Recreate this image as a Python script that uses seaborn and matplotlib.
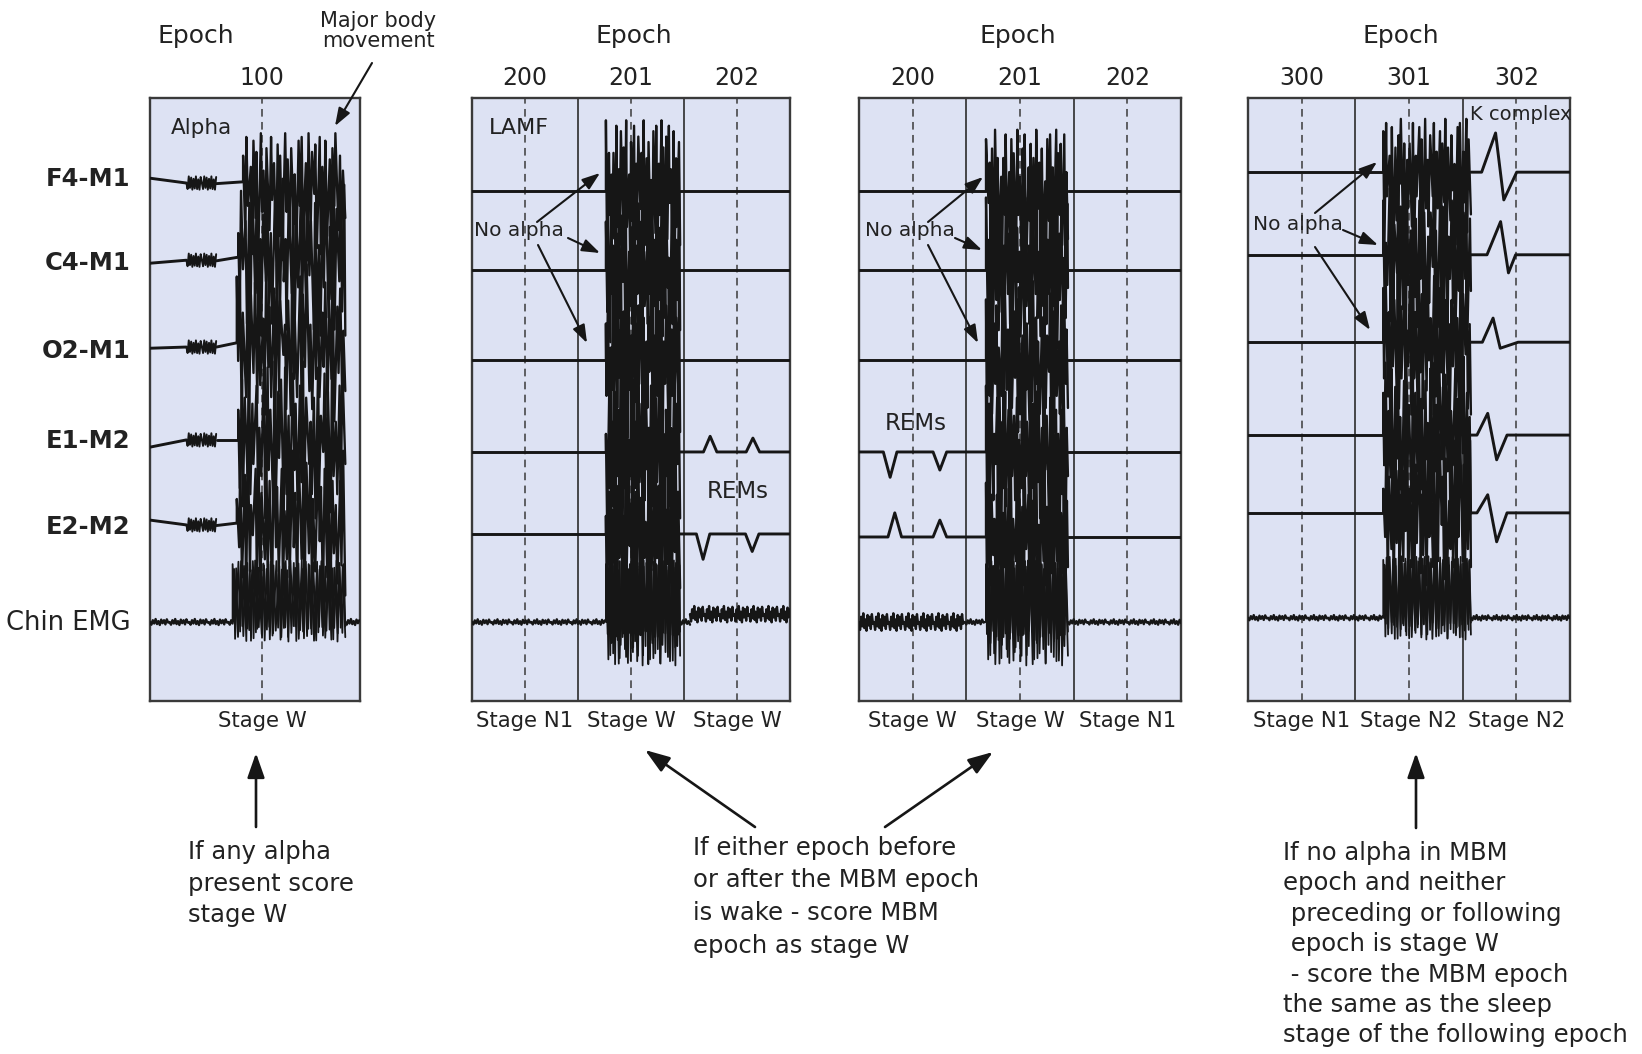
import numpy as np
import pandas as pd
import matplotlib
matplotlib.use("Agg")
import matplotlib.pyplot as plt
import seaborn as sns

sns.set_theme(style="white")
plt.rcParams['font.family'] = ['DejaVu Sans']

# ---------------- data ----------------
channels = ["F4-M1", "C4-M1", "O2-M1", "E1-M2", "E2-M2", "Chin EMG"]
channel_label_pos = [13.1, 26.9, 41.5, 56.4, 70.8, 86.6]   # 0 = top of panel, 100 = bottom

panel_epochs = [["100"], ["200", "201", "202"], ["200", "201", "202"], ["300", "301", "302"]]
panel_stages = [["Stage W"], ["Stage N1", "Stage W", "Stage W"],
                ["Stage W", "Stage W", "Stage N1"], ["Stage N1", "Stage N2", "Stage N2"]]
panel_mid_epoch = [[16.0], [15.0, 45.0, 75.0], [15.0, 45.0, 75.0], [15.0, 45.0, 75.0]]
epoch_bounds = [[], [30.0, 60.0], [30.0, 60.0], [30.0, 60.0]]

# panel 1 (epoch 100): baseline level at t = 0, 5.2, 9.5 and at burst onset
p1_knot_t = [0.0, 5.2, 9.5]
p1_drift = [[13.3, 14.1, 14.2, 13.9],
            [27.4, 26.9, 27.0, 26.4],
            [41.5, 41.3, 41.3, 40.6],
            [57.9, 56.7, 56.7, 56.7],
            [70.0, 70.8, 70.9, 70.5]]
p1_emg_level = 86.9
p1_burst_start = [13.3, 12.6, 12.4, 12.6, 12.4, 11.8]
p1_burst_end = 27.9

base_p2 = [15.4, 28.5, 43.4, 58.7, 72.3, 86.9]
base_p3 = [15.4, 28.5, 43.4, 58.7, 72.8, 86.9]
base_p4 = [12.3, 26.0, 40.5, 55.9, 68.8, 86.2]
burst_p2 = (37.9, 58.9)
burst_p3 = (35.5, 58.4)
burst_p4 = (37.8, 62.3)
p2_emg_thick_from = 61.7
p3_emg_thick_to = 29.6

# height of the burst above the top trace and depth of EMG spikes, per panel
burst_up_scale = [0.62, 0.9, 0.78, 0.68]
emg_down_scale = [0.45, 1.0, 1.0, 0.5]

# REMs: (time s, deflection; negative = upward)
rem_p2_e1 = [(67.4, -2.6), (79.5, -2.3)]
rem_p2_e2 = [(65.4, 4.2), (79.3, 2.9)]
rem_p3_e1 = [(8.7, 4.2), (22.6, 3.0)]
rem_p3_e2 = [(10.0, -4.0), (22.6, -2.8)]

# K complexes in epoch 302 (F4, C4, O2, E1, E2)
kc_start = [65.3, 66.8, 65.5, 64.0, 64.0]
kc_peak_t = [69.2, 70.6, 68.5, 67.0, 67.0]
kc_peak = [6.5, 5.5, 4.0, 3.6, 3.0]
kc_trough_t = [71.5, 72.8, 70.5, 69.5, 69.5]
kc_trough = [4.6, 3.0, 1.0, 4.1, 4.8]
kc_end = [75.1, 74.8, 75.5, 72.4, 72.4]

# major body movement burst excursions (units above / below baseline) and stroke spacing
mbm_up = [7, 12, 4, 11, 8, 13, 3, 9, 12, 5, 10, 7, 13, 6, 9, 2, 11, 12, 5, 13, 8, 10, 12, 4, 11, 6, 9, 13, 7, 3]
mbm_down = [9, 4, 12, 6, 13, 5, 11, 8, 3, 12, 9, 13, 5, 10, 7, 12, 4, 9, 13, 8, 2, 11, 12, 6, 9, 13, 4, 8, 11, 6]
mbm_gap = [1.0, 1.6, 0.7, 1.2, 2.0, 0.8, 1.1, 1.5, 0.6, 1.3, 1.9, 0.9, 1.0, 1.4, 0.7, 2.2, 1.1, 0.8, 1.3, 1.7,
           0.9, 1.2, 0.6, 1.5, 2.1, 1.0, 0.8, 1.4, 1.1, 1.8, 0.7, 1.2, 1.6, 0.9, 1.3, 1.0, 2.0, 0.8, 1.1, 1.5]
emg_up = [9.6, 8.9, 10.1, 9.3, 9.8, 8.6, 10.2, 9.0, 9.7, 8.8, 10.0, 9.4, 9.9, 8.7, 10.1,
          9.2, 9.8, 8.9, 10.2, 9.1, 9.6, 8.8, 10.0, 9.3, 9.7, 8.6, 10.1, 9.0, 9.8, 9.4]
emg_down = [2.0, 5.5, 1.5, 7.0, 3.0, 6.0, 2.5, 4.5, 6.8, 1.8, 5.0, 3.2, 6.5, 2.2, 7.2,
            4.0, 1.6, 6.2, 3.5, 5.2, 2.4, 6.9, 3.8, 1.9, 5.8, 2.8, 6.4, 4.2, 2.1, 5.6]
emg_jitter = [0.0, 0.45, -0.3, 0.25, -0.5, 0.35, -0.15, 0.5, -0.4, 0.2, -0.3, 0.4, -0.45, 0.1]
alpha_wave = [0.0, 1.0, -1.1, 0.8, -0.9, 1.1, -0.7, 0.9, -1.1, 1.0, -0.6, 1.1, -1.0]

# ---------------- layout (pixels of the 1642 x 1054 canvas) ----------------
W, H = 1642, 1054
panel_px = [(150, 360), (472, 790), (859, 1181), (1248, 1570)]
panel_top, panel_bot = 98, 701
ink = "#161616"
grid_ink = "#3a3a3a"
face = "#dde2f3"

# ---------------- build the traces ----------------
rows = []
seg = [0]


def add(panel, kind, ts, ys):
    seg[0] += 1
    for t, y in zip(ts, ys):
        rows.append((panel, kind, seg[0], float(t), float(y)))


def zigzag(t0, t1, level, up, down, shift=0):
    n = len(up)
    g = np.roll(np.resize(np.asarray(mbm_gap, float), 2 * n), shift)
    pos = np.cumsum(g)
    pos = (pos - pos[0]) / (pos[-1] - pos[0])
    ts = t0 + (t1 - t0) * pos
    ys = np.empty(2 * n)
    ys[0::2] = level - np.asarray(up, float)
    ys[1::2] = level + np.asarray(down, float)
    return np.r_[t0, ts], np.r_[level, ys]


def jitter(t0, t1, level, step, scale, offset=0.0):
    ts = np.arange(t0, t1 + 1e-9, step)
    pat = np.resize(np.asarray(emg_jitter, float), len(ts))
    return ts, level + offset + scale * pat


def rem_path(t0, t1, level, rems, hw=1.9):
    ts, ys = [t0], [level]
    for tc, d in rems:
        ts += [tc - hw, tc, tc + hw]
        ys += [level, level + d, level]
    ts.append(t1)
    ys.append(level)
    return ts, ys


# panel 1
us = burst_up_scale[0]
for c in range(5):
    k = p1_drift[c]
    add(0, "base", [p1_knot_t[0], p1_knot_t[1]], [k[0], k[1]])
    ta = np.arange(p1_knot_t[1], p1_knot_t[2], 0.17)
    add(0, "alpha", ta, k[1] + np.resize(np.asarray(alpha_wave, float), len(ta)))
    add(0, "base", [p1_knot_t[2], p1_burst_start[c]], [k[2], k[3]])
    up = np.roll(mbm_up, 7 * c) * (us if c == 0 else 1.0)
    dn = np.roll(mbm_down, 11 * c)
    add(0, "burst", *zigzag(p1_burst_start[c], p1_burst_end, k[3], up, dn, shift=5 * c))
add(0, "jitter", *jitter(0, p1_burst_start[5], p1_emg_level, 0.2, 1.0))
eds = emg_down_scale[0]
add(0, "emgburst", *zigzag(p1_burst_start[5], p1_burst_end, p1_emg_level, emg_up,
                            np.asarray(emg_down) * eds))
add(0, "emgburst", *zigzag(p1_burst_start[5] + 0.2, p1_burst_end, p1_emg_level,
                            np.roll(emg_up, 9), np.roll(emg_down, 13) * eds, shift=7))
add(0, "jitter", *jitter(p1_burst_end, 30, p1_emg_level, 0.2, 1.0))

# panels 2-4 EEG / EOG channels
for p, base, (b0, b1) in [(1, base_p2, burst_p2), (2, base_p3, burst_p3), (3, base_p4, burst_p4)]:
    us = burst_up_scale[p]
    for c in range(5):
        lv = base[c]
        # before the burst
        if p == 2 and c == 3:
            add(p, "base", *rem_path(0, b0, lv, rem_p3_e1))
        elif p == 2 and c == 4:
            add(p, "base", *rem_path(0, b0, lv, rem_p3_e2))
        else:
            add(p, "base", [0, b0], [lv, lv])
        # burst
        up = np.roll(mbm_up, 7 * c + 3 * p) * (us if c == 0 else 1.0)
        dn = np.roll(mbm_down, 11 * c + 5 * p)
        add(p, "burst", *zigzag(b0, b1, lv, up, dn, shift=5 * c + 3 * p))
        # after the burst
        if p == 1 and c == 3:
            add(p, "base", *rem_path(b1, 90, lv, rem_p2_e1))
        elif p == 1 and c == 4:
            add(p, "base", *rem_path(b1, 90, lv, rem_p2_e2))
        elif p == 3:
            add(p, "base", [b1, kc_start[c], kc_peak_t[c], kc_trough_t[c], kc_end[c], 90],
                [lv, lv, lv - kc_peak[c], lv + kc_trough[c], lv, lv])
        else:
            add(p, "base", [b1, 90], [lv, lv])
    # chin EMG
    lv = base[5]
    eds = emg_down_scale[p]
    if p == 2:
        add(p, "jitter", *jitter(0, p3_emg_thick_to, lv, 0.3, 2.9))
        add(p, "jitter", *jitter(p3_emg_thick_to, b0, lv, 0.4, 0.9))
    else:
        add(p, "jitter", *jitter(0, b0, lv, 0.4, 0.9))
    add(p, "emgburst", *zigzag(b0, b1, lv, emg_up, np.asarray(emg_down) * eds, shift=2 * p))
    add(p, "emgburst", *zigzag(b0 + 0.3, b1, lv, np.roll(emg_up, 9),
                                np.roll(emg_down, 13) * eds, shift=7 + p))
    if p == 1:
        add(p, "jitter", *jitter(b1, p2_emg_thick_from, lv, 0.4, 0.9))
        add(p, "jitter", *jitter(p2_emg_thick_from, 90, lv, 0.3, 2.7, offset=-1.3))
    else:
        add(p, "jitter", *jitter(b1, 90, lv, 0.4, 0.9))

df = pd.DataFrame(rows, columns=["panel", "kind", "seg", "t", "y"])

# ---------------- figure ----------------
fig = plt.figure(figsize=(W / 100, H / 100), dpi=100)
fig.patch.set_facecolor("white")

line_w = {"base": 2.1, "alpha": 1.4, "burst": 1.7, "emgburst": 1.3, "jitter": 1.7}
axes = []
for p, (x0, x1) in enumerate(panel_px):
    ax = fig.add_axes([x0 / W, 1 - panel_bot / H, (x1 - x0) / W, (panel_bot - panel_top) / H])
    ax.set_facecolor(face)
    for kind, lw in line_w.items():
        sub = df[(df.panel == p) & (df.kind == kind)]
        if len(sub):
            sns.lineplot(data=sub, x="t", y="y", units="seg", estimator=None, sort=False,
                         color=ink, lw=lw, ax=ax, legend=False, zorder=3)
    span = 30 * len(panel_epochs[p])
    ax.set_xlim(0, span)
    ax.set_ylim(100, 0)
    ax.set_xlabel("")
    ax.set_ylabel("")
    for xb in epoch_bounds[p]:
        ax.axvline(xb, color=grid_ink, lw=1.3, zorder=1)
    for xm in panel_mid_epoch[p]:
        ax.axvline(xm, color=grid_ink, lw=1.1, ls=(0, (5, 3.5)), zorder=1)
    for s in ax.spines.values():
        s.set_color(grid_ink)
        s.set_linewidth(1.7)
    ax.set_xticks(panel_mid_epoch[p])
    ax.set_xticklabels(panel_stages[p], fontsize=15.3, color="#222222")
    ax.tick_params(axis="x", length=0, pad=7)
    sec = ax.secondary_xaxis("top")
    sec.set_xticks(panel_mid_epoch[p])
    sec.set_xticklabels(panel_epochs[p], fontsize=17, color="#222222")
    sec.tick_params(length=0, pad=6)
    sec.spines["top"].set_visible(False)
    if p == 0:
        ax.set_yticks(channel_label_pos)
        ax.set_yticklabels(channels)
        for i, lbl in enumerate(ax.get_yticklabels()):
            lbl.set_color("#222222")
            if i < 5:
                lbl.set_fontweight("bold")
                lbl.set_fontsize(17.5)
            else:
                lbl.set_fontsize(18.5)
        ax.tick_params(axis="y", length=0, pad=14)
    else:
        ax.set_yticks([])
    axes.append(ax)

# ---------------- annotation overlay (pixel coordinates) ----------------
ov = fig.add_axes([0, 0, 1, 1])
ov.set_xlim(0, W)
ov.set_ylim(H, 0)
ov.axis("off")
ov.set_zorder(10)
ov.patch.set_alpha(0)

txt = "#222222"
for x in [196, 634, 1018, 1401]:
    ov.text(x, 36, "Epoch", ha="center", va="center", fontsize=18, color=txt)
ov.text(378, 31, "Major body\nmovement", ha="center", va="center", fontsize=15,
        linespacing=0.95, color=txt)
ov.text(171, 128, "Alpha", ha="left", va="center", fontsize=15.5, color=txt)
ov.text(489, 128, "LAMF", ha="left", va="center", fontsize=16, color=txt)
for (x, y) in [(474, 230), (865, 230), (1253, 225)]:
    ov.text(x, y, "No alpha", ha="left", va="center", fontsize=14.5, color=txt)
ov.text(707, 492, "REMs", ha="left", va="center", fontsize=16.5, color=txt)
ov.text(885, 423, "REMs", ha="left", va="center", fontsize=16.5, color=txt)
ov.text(1470, 115, "K complex", ha="left", va="center", fontsize=14, color=txt)

small_arrow = dict(arrowstyle="-|>,head_length=0.9,head_width=0.32", color=ink, lw=1.5,
                   mutation_scale=12, shrinkA=0, shrinkB=0)
big_arrow = dict(arrowstyle="-|>,head_length=1.0,head_width=0.35", color=ink, lw=1.9,
                 mutation_scale=15, shrinkA=0, shrinkB=0)
for tail, head in [((537, 222), (600, 173)), ((568, 238), (600, 253)), ((538, 245), (587, 343)),
                   ((928, 222), (983, 177)), ((955, 238), (982, 250)), ((928, 245), (978, 343)),
                   ((1315, 213), (1377, 162)), ((1343, 230), (1378, 245)), ((1315, 247), (1370, 330)),
                   ((372, 63), (335, 126))]:
    ov.annotate("", xy=head, xytext=tail, arrowprops=small_arrow)
for tail, head in [((256, 827), (256, 753)), ((755, 827), (645, 750)),
                   ((885, 827), (993, 752)), ((1416, 828), (1416, 753))]:
    ov.annotate("", xy=head, xytext=tail, arrowprops=big_arrow)

left_note = ["If any alpha", "present score", "stage W"]
mid_note = ["If either epoch before", "or after the MBM epoch", "is wake - score MBM", "epoch as stage W"]
right_note = ["If no alpha in MBM", "epoch and neither", " preceding or following", " epoch is stage W",
              " - score the MBM epoch", "the same as the sleep", "stage of the following epoch"]
for x0, y0, pitch, lines in [(188, 859, 31.5, left_note), (693, 855, 32.5, mid_note),
                             (1283, 860, 30.4, right_note)]:
    for i, line in enumerate(lines):
        ov.text(x0, y0 + i * pitch, line, ha="left", va="baseline", fontsize=17.5, color=txt)

fig.savefig("out.png", dpi=100, facecolor="white")
